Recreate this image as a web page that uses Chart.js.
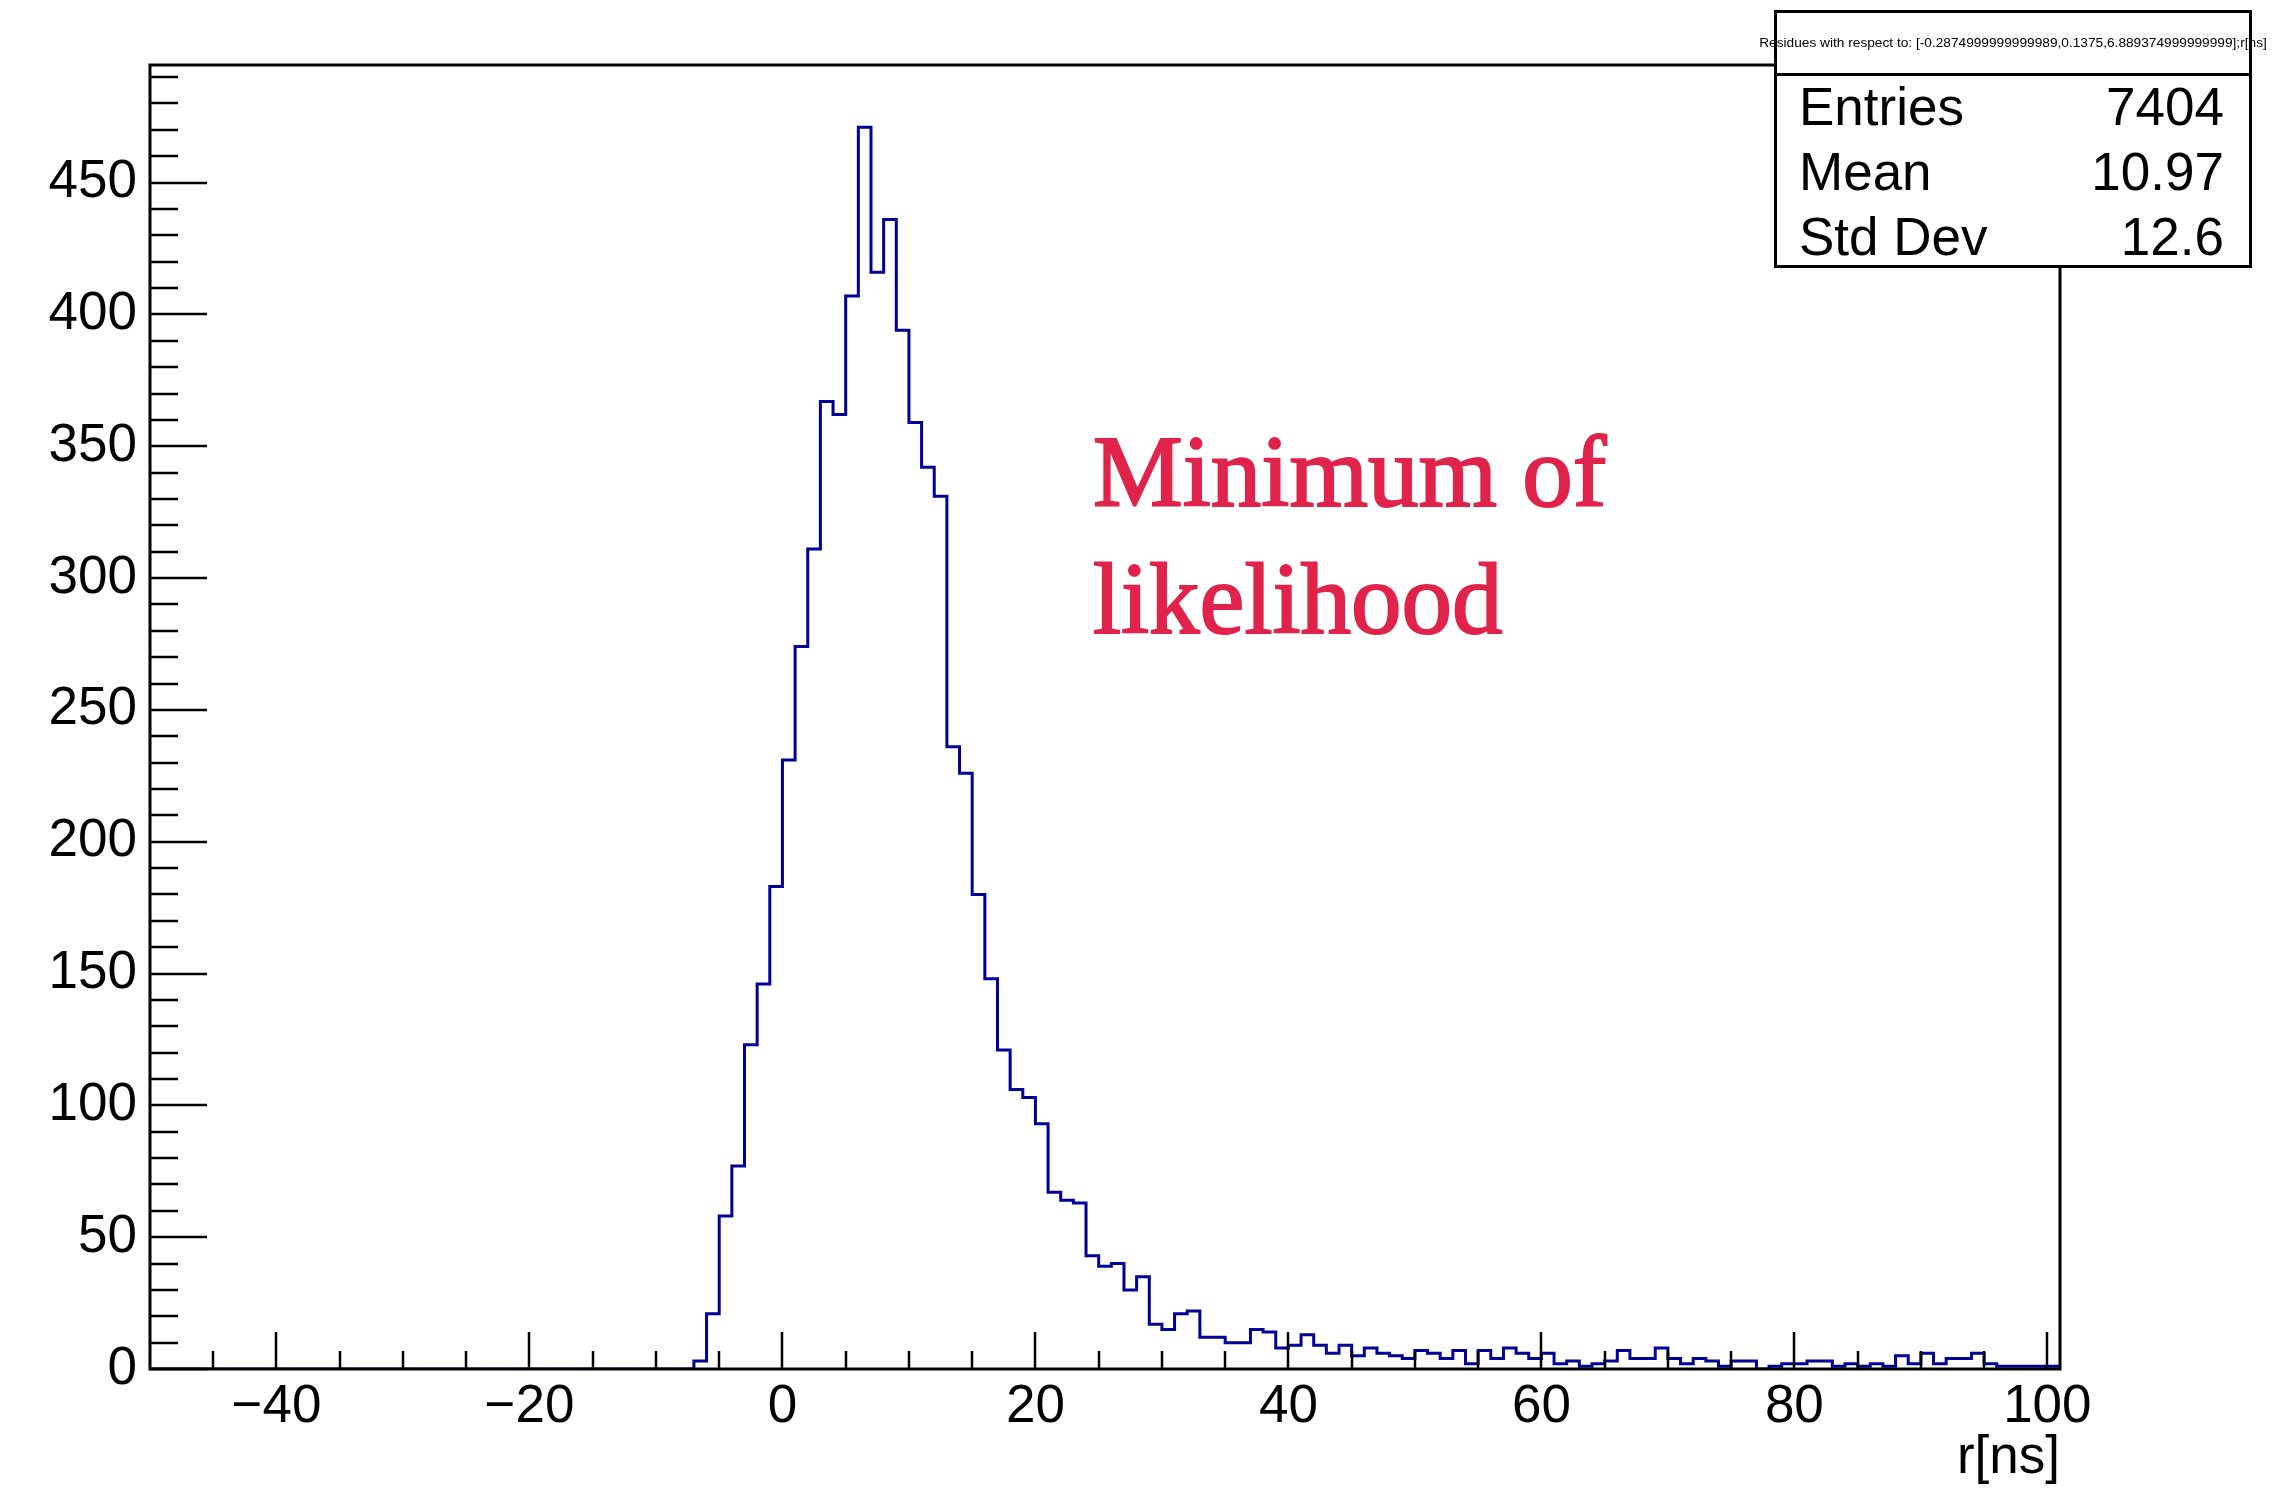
<!DOCTYPE html>
<html>
<head>
<meta charset="utf-8">
<script src="https://cdn.jsdelivr.net/npm/chart.js@4.4.1/dist/chart.umd.min.js"></script>
<style>
  html, body { margin: 0; padding: 0; background: #fff; }
  #wrap { position: relative; width: 2279px; height: 1490px; overflow: hidden; font-family: "Liberation Sans", Arial, sans-serif; }
  #histo { position: absolute; left: 0; top: 0; }
  .stats { position: absolute; left: 1774px; top: 10px; width: 478px; height: 258px; border: 3px solid #000; box-sizing: border-box; background: #fff; }
  .stats .sep { position: absolute; left: 0; right: 0; top: 60px; height: 3px; background: #000; }
  .stitle { position: absolute; left: 2013px; top: 43px; transform: translate(-50%, -50%); font-size: 13.7px; line-height: 1; white-space: nowrap; color: #000; }
  .row { position: absolute; height: 64px; line-height: 64px; font-size: 53px; color: #000; white-space: nowrap; }
  .lbl { left: 1799px; }
  .val { right: 55px; text-align: right; }
  .note { position: absolute; left: 1093px; top: 409px; font-family: "Liberation Serif", "DejaVu Serif", serif; font-size: 101px; line-height: 127px; color: #e0234a; -webkit-text-stroke: 2px #e0234a; white-space: nowrap; }
</style>
</head>
<body>
<div id="wrap">
  <canvas id="histo" width="2279" height="1490"></canvas>
  <div class="note">Minimum of<br>likelihood</div>
  <div class="stats"><div class="sep"></div></div>
  <div class="stitle">Residues with respect to: [-0.2874999999999989,0.1375,6.889374999999999];r[ns]</div>
  <div class="row lbl" style="top:75px">Entries</div>
  <div class="row val" style="top:75px">7404</div>
  <div class="row lbl" style="top:140px">Mean</div>
  <div class="row val" style="top:140px">10.97</div>
  <div class="row lbl" style="top:205px">Std Dev</div>
  <div class="row val" style="top:205px">12.6</div>
</div>
<script>
// histogram: 1 ns bins, low edge of first bin at -50
const binStart = -50
const binWidth = 1
const counts = [
    0, 0, 0, 0, 0, 0, 0, 0, 0, 0,        // -50 .. -41
    0, 0, 0, 0, 0, 0, 0, 0, 0, 0,        // -40 .. -31
    0, 0, 0, 0, 0, 0, 0, 0, 0, 0,        // -30 .. -21
    0, 0, 0, 0, 0, 0, 0, 0, 0, 0,        // -20 .. -11
    0, 0, 0, 3, 21, 58, 77, 123, 146, 183, // -10 .. -1
    231, 274, 311, 367, 362, 407, 471, 416, 436, 394, // 0 .. 9
    359, 342, 331, 236, 226, 180, 148, 121, 106, 103, // 10 .. 19
    93, 67, 64, 63, 43, 39, 40, 30, 35, 17,  // 20 .. 29
    15, 21, 22, 12, 12, 10, 10, 15, 14, 8,   // 30 .. 39
    9, 13, 9, 6, 9, 5, 8, 6, 5, 4,           // 40 .. 49
    7, 6, 4, 7, 2, 7, 4, 8, 6, 4,            // 50 .. 59
    6, 2, 3, 1, 2, 3, 7, 4, 4, 8,            // 60 .. 69
    4, 2, 4, 3, 1, 3, 3, 0, 1, 2,            // 70 .. 79
    2, 3, 3, 1, 2, 1, 2, 1, 5, 2,            // 80 .. 89
    6, 2, 4, 4, 6, 2, 1, 1, 1, 1,            // 90 .. 99
    1                                        // 100
]
const xTickLabels = [-40, -20, 0, 20, 40, 60, 80, 100]
const yTickLabels = [0, 50, 100, 150, 200, 250, 300, 350, 400, 450]
const xRange = [-50, 101]
const yRange = [0, 494.6]

const points = counts.map((c, i) => ({x: binStart + i * binWidth, y: c}))
points.push({x: binStart + counts.length * binWidth, y: counts[counts.length - 1]})

const labelFont = {family: '"Liberation Sans", Arial, sans-serif', size: 53}

// ROOT-like frame with inward ticks, drawn over the histogram
const rootFrame = {
    id: 'rootFrame',
    afterDatasetsDraw(chart) {
        const {ctx, chartArea: a, scales: {x, y}} = chart
        ctx.save()
        ctx.strokeStyle = '#000'
        ctx.lineWidth = 2.5
        ctx.beginPath()
        for (let v = 0; v <= y.max; v += 10) {
            const py = Math.round(y.getPixelForValue(v))
            const len = v % 50 === 0 ? 57 : 28
            ctx.moveTo(a.left, py)
            ctx.lineTo(a.left + len, py)
        }
        for (let v = -45; v <= 100; v += 5) {
            const px = Math.round(x.getPixelForValue(v))
            const len = v % 20 === 0 ? 37 : 18
            ctx.moveTo(px, a.bottom)
            ctx.lineTo(px, a.bottom - len)
        }
        ctx.stroke()
        ctx.lineWidth = 3
        ctx.strokeRect(a.left, a.top, a.right - a.left, a.bottom - a.top)
        ctx.restore()
    }
}

const config = {
    type: 'line',
    data: {
        datasets: [{
            data: points,
            stepped: true,
            borderColor: 'rgb(0, 0, 153)',
            borderWidth: 3,
            pointRadius: 0,
            fill: false
        }]
    },
    options: {
        responsive: false,
        animation: false,
        layout: {padding: {top: 65, right: 219, left: 0, bottom: 0}},
        plugins: {legend: {display: false}, tooltip: {enabled: false}},
        scales: {
            x: {
                type: 'linear',
                min: xRange[0],
                max: xRange[1],
                afterBuildTicks: (axis) => { axis.ticks = xTickLabels.map(v => ({value: v})) },
                afterFit: (scale) => { scale.height = 121 },
                grid: {display: false, drawTicks: false},
                border: {display: false},
                ticks: {
                    autoSkip: false,
                    maxRotation: 0,
                    padding: 7,
                    color: '#000',
                    font: labelFont,
                    callback: (v) => String(v).replace('-', '\u2212')
                },
                title: {
                    display: true,
                    text: 'r[ns]',
                    align: 'end',
                    color: '#000',
                    font: labelFont,
                    padding: {top: 0, bottom: 0}
                }
            },
            y: {
                min: yRange[0],
                max: yRange[1],
                afterBuildTicks: (axis) => { axis.ticks = yTickLabels.map(v => ({value: v})) },
                afterFit: (scale) => { scale.width = 150 },
                grid: {display: false, drawTicks: false},
                border: {display: false},
                ticks: {padding: 13, color: '#000', font: labelFont}
            }
        }
    },
    plugins: [rootFrame]
}

const histoChart = new Chart(document.getElementById('histo'), config)
</script>
</body>
</html>
